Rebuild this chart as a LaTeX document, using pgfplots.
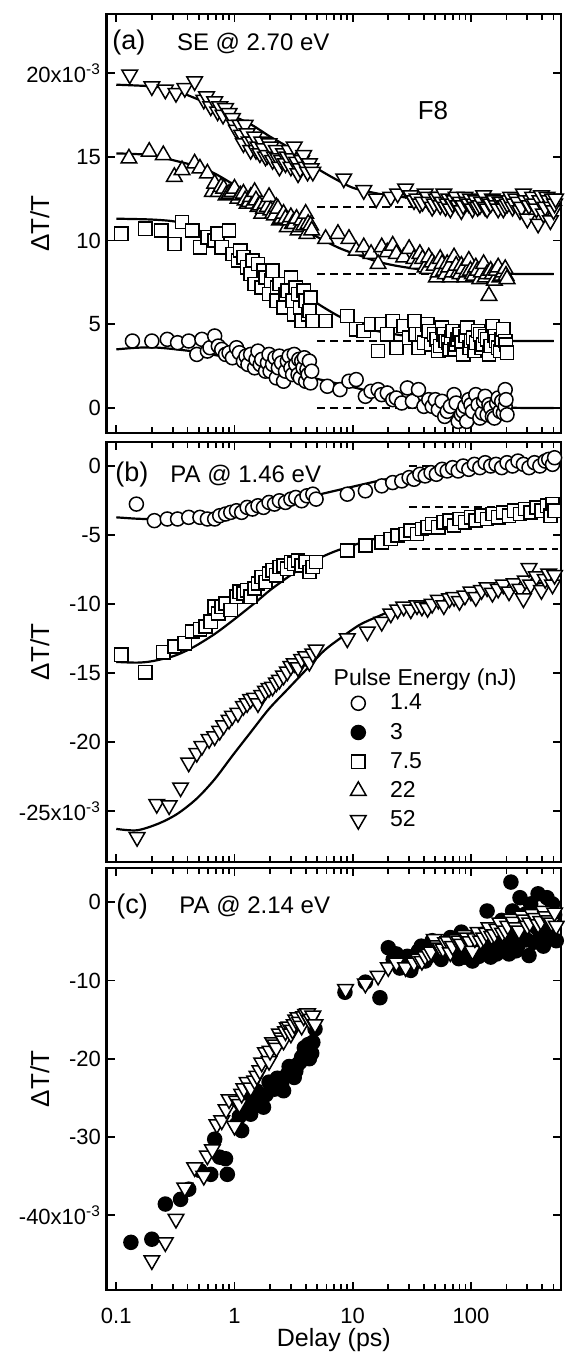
\documentclass[border=0pt]{standalone}
\usepackage{fontspec}
\setmainfont{Liberation Sans}
\usepackage{pgfplots}
\pgfplotsset{compat=1.18}
\pgfplotsset{
  mypanel/.style={
    scale only axis, width=227.15pt,
    xmin=0.083, xmax=578,
    axis line style={line width=1.3pt},
    every tick/.style={black, line width=0.9pt},
    major tick length=4.2pt, minor tick length=3pt,
    tick align=inside, xtick pos=both, ytick pos=both,
    xtick={0.1,1,10,100},
    minor xtick={0.2,0.3,0.4,0.5,0.6,0.7,0.8,0.9,2,3,4,5,6,7,8,9,20,30,40,50,60,70,80,90,200,300,400,500},
    tick label style={font=\fontsize{11}{13}\selectfont},
    yticklabel style={inner sep=0pt, xshift=-2.7pt},
    every axis y label/.style={at={(axis description cs:-0.147,0.5)}, rotate=90, anchor=center, font=\fontsize{13}{15}\selectfont},
    ylabel={ΔT/T},
  },
  mcirc/.style={only marks, mark=*, mark size=3.5pt, mark options={fill=white, draw=black, line width=0.75pt}},
  mfcirc/.style={only marks, mark=*, mark size=3.5pt, mark options={fill=black, draw=black, line width=0.75pt}},
  msq/.style={only marks, mark=square*, mark size=3.3pt, mark options={fill=white, draw=black, line width=0.75pt}},
  mtri/.style={only marks, mark=triangle*, mark size=4.5pt, mark options={fill=white, draw=black, line width=0.75pt}},
  mdtri/.style={only marks, mark=triangle*, mark size=4.5pt, mark options={fill=white, draw=black, line width=0.75pt, rotate=180}},
  fitl/.style={black, line width=1.1pt, no marks, smooth},
  dashl/.style={black, line width=1pt, dash pattern=on 4pt off 2.5pt, no marks},
  legimg/.style={legend image code/.code={\draw[##1] plot coordinates {(0pt,0pt)}; \path[draw=none, fill=none] (-6pt,-5pt) rectangle (6pt,5pt);}},
}
\tikzset{
  annot/.style={anchor=west, inner sep=0pt, font=\fontsize{12}{14}\selectfont},
  annotp/.style={anchor=west, inner sep=0pt, font=\fontsize{13.5}{15}\selectfont},
}
\begin{document}
\begin{tikzpicture}
\useasboundingbox (0,0) rectangle (282pt,-679pt);
% ---------------- panel (a)
\begin{semilogxaxis}[mypanel, at={(53.35pt,-7pt)}, anchor=north west, height=209.5pt,
  ymin=-1.49, ymax=23.52, ytick={0,5,10,15,20},
  yticklabels={0,5,10,15,{20x10\textsuperscript{-3}\hspace{7.5pt}}}, xticklabels={}]
\addplot[dashl] coordinates {(5,0)(500,0)};
\addplot[dashl] coordinates {(5,4)(500,4)};
\addplot[dashl] coordinates {(5,8)(500,8)};
\addplot[dashl] coordinates {(5,12)(500,12)};
% 1.4 nJ circles
\addplot[mcirc] coordinates {(0.137,4.0)(0.2,4.0)(0.27,4.1)(0.33,3.9)(0.41,4.0)(0.48,3.2)(0.53,4.1)(0.59,3.4)(0.62,3.6)(0.68,4.3)(0.73,3.7)(0.78,3.5)(0.84,3.2)(0.9,3.3)(0.96,3.0)(1.04,3.6)(1.1,3.3)(1.19,2.8)(1.25,3.1)(1.3,2.6)(1.37,3.2)(1.48,2.4)(1.52,2.9)(1.58,3.4)(1.65,2.6)(1.7,2.9)(1.83,2.2)(1.9,2.7)(1.96,3.2)(2.0,2.2)(2.1,2.6)(2.2,3.0)(2.26,1.8)(2.35,2.4)(2.4,3.1)(2.5,2.7)(2.6,1.6)(2.7,2.2)(2.8,2.8)(2.9,3.1)(3.0,2.4)(3.1,2.0)(3.2,3.2)(3.3,2.6)(3.45,2.0)(3.5,2.9)(3.6,1.8)(3.7,2.8)(3.8,2.4)(3.9,3.0)(4.0,1.6)(4.1,2.3)(4.2,2.0)(4.3,2.8)(4.4,1.5)(4.5,2.2)(6.1,1.3)(7.8,1.1)(9.3,1.6)(10.7,1.7)(12.8,0.7)(14.3,1.0)(16.4,1.1)(17.6,0.8)(19.6,0.9)(21.8,0.5)(23.4,0.6)(26,0.3)(29,1.2)(32,0.4)(36,1.1)(40,0.1)(44,0.5)(47,0.1)(50,0.5)(53,-0.1)(57,0.4)(60,-0.5)(63,-0.2)(67,0.1)(72,0.8)(75,0.3)(78,-0.8)(83,-0.4)(86,-0.2)(89,0.1)(92,-0.8)(96,0.5)(100,0.2)(103,-0.2)(110,0.8)(115,0.2)(119,-0.6)(125,-0.3)(128,0.4)(132,0.7)(137,-0.4)(142,0.2)(147,0.0)(152,-0.5)(158,-0.6)(165,0.3)(170,0.6)(176,-0.2)(182,0.4)(188,-0.3)(195,1.1)(195,0.1)(198,0.5)(202,-0.4)};
% 7.5 nJ squares
\addplot[msq] coordinates {(0.11,10.4)(0.176,10.7)(0.24,10.6)(0.31,9.8)(0.36,11.1)(0.44,10.6)(0.51,9.6)(0.59,10.2)(0.68,10.0)(0.72,10.4)(0.78,9.6)(0.9,10.6)(0.96,9.2)(1.07,8.8)(1.12,9.4)(1.19,9.0)(1.28,8.4)(1.37,8.0)(1.42,8.8)(1.48,7.4)(1.58,8.6)(1.7,7.2)(1.76,8.2)(1.83,7.8)(1.96,6.8)(2.05,7.6)(2.1,8.2)(2.26,6.4)(2.3,7.2)(2.4,7.4)(2.6,6.0)(2.7,6.8)(2.8,7.0)(3.0,7.8)(3.1,6.4)(3.2,5.6)(3.3,7.2)(3.45,6.8)(3.6,6.0)(3.7,5.2)(3.85,7.0)(4.0,6.4)(4.2,5.6)(4.3,5.8)(4.4,6.6)(4.6,5.2)(5.9,5.2)(9.0,5.5)(10.7,4.7)(12.4,4.6)(14.3,5.0)(16.4,3.4)(17.6,5.0)(19.6,4.4)(21.8,5.2)(23.4,3.6)(27,4.9)(30,4.2)(33.3,5.2)(34,4.4)(36,3.6)(38.5,4.4)(40,3.9)(42.8,5.0)(44,4.6)(46,3.8)(49,4.4)(51,4.1)(53,3.4)(55,3.7)(57,4.8)(59,4.4)(61,4.0)(64,3.9)(66,3.5)(68,4.2)(70,4.6)(73,3.5)(75,3.8)(77,4.1)(80,4.4)(83,3.9)(86,3.2)(90,4.3)(93,4.8)(97,3.6)(100,4.0)(104,4.2)(107,3.4)(111,3.9)(115,4.6)(119,4.4)(123,3.6)(127,3.8)(132,4.3)(137,4.1)(142,3.2)(147,3.7)(152,4.9)(158,4.3)(163,4.0)(170,3.6)(176,3.4)(182,4.1)(188,4.7)(195,4.0)(198,3.8)(202,3.3)};
% 22 nJ triangles up
\addplot[mtri] coordinates {(0.128,14.9)(0.19,15.3)(0.25,15.1)(0.31,13.8)(0.36,14.2)(0.46,14.6)(0.51,14.3)(0.59,14.0)(0.65,12.9)(0.68,13.4)(0.73,12.9)(0.77,13.2)(0.81,13.1)(0.85,12.7)(0.9,12.8)(0.95,12.9)(1.0,13.1)(1.07,12.5)(1.12,12.7)(1.19,12.8)(1.23,12.4)(1.28,12.2)(1.33,12.3)(1.37,12.6)(1.43,12.2)(1.48,12.9)(1.52,12.4)(1.58,12.0)(1.64,12.1)(1.7,11.6)(1.76,11.9)(1.83,12.2)(1.9,12.0)(1.96,12.6)(2.03,11.8)(2.1,11.6)(2.18,11.5)(2.26,12.0)(2.33,11.9)(2.4,11.2)(2.5,11.3)(2.6,11.6)(2.7,11.3)(2.8,10.8)(2.9,11.2)(3.0,11.4)(3.1,11.0)(3.2,11.0)(3.35,11.3)(3.45,10.6)(3.6,10.8)(3.7,11.2)(3.85,10.9)(4.0,11.6)(4.1,10.4)(4.2,11.0)(4.4,10.9)(4.5,10.6)(5.9,10.1)(7.5,10.4)(9.3,10.1)(10.7,9.4)(12.4,9.6)(14.3,9.2)(16.4,8.6)(17.6,9.6)(19.6,9.3)(21.8,9.7)(23.4,9.2)(27,9.0)(30,9.5)(33,8.9)(35,8.6)(37,9.2)(39,8.9)(41,8.4)(43,8.3)(44,9.0)(47,8.7)(49,8.5)(51,7.8)(53,8.1)(55,8.9)(57,8.6)(59,8.2)(61,8.0)(63,8.6)(65,8.4)(67,7.8)(70,8.1)(72,9.0)(75,8.5)(78,8.1)(81,8.0)(83,8.5)(86,8.3)(89,7.8)(92,8.1)(96,8.8)(99,8.2)(103,8.0)(106,7.9)(110,8.4)(114,8.2)(119,7.7)(123,8.1)(128,8.6)(132,7.8)(137,8.0)(142,6.7)(147,8.2)(152,8.0)(158,7.6)(164,8.2)(170,8.4)(176,7.8)(182,7.9)(188,8.1)(195,8.3)(198,7.9)(202,7.7)};
% 52 nJ triangles down
\addplot[mdtri] coordinates {(0.13,19.9)(0.2,19.2)(0.26,19.0)(0.32,18.8)(0.38,19.1)(0.46,19.5)(0.55,18.4)(0.58,18.6)(0.63,18.0)(0.68,18.3)(0.72,17.7)(0.75,18.0)(0.8,17.5)(0.84,17.9)(0.9,17.6)(0.96,17.3)(1.0,16.9)(1.04,16.6)(1.11,16.9)(1.15,16.3)(1.19,15.8)(1.23,16.9)(1.28,16.4)(1.33,15.9)(1.37,15.4)(1.43,15.9)(1.48,16.2)(1.52,15.4)(1.58,15.6)(1.64,15.2)(1.7,15.9)(1.76,15.5)(1.83,15.0)(1.9,15.1)(1.96,15.8)(2.03,15.6)(2.1,14.8)(2.18,15.0)(2.26,15.4)(2.33,14.9)(2.4,14.4)(2.5,14.8)(2.6,15.2)(2.7,14.6)(2.8,15.0)(2.9,15.4)(3.0,14.4)(3.1,14.9)(3.2,15.6)(3.35,14.7)(3.45,14.0)(3.6,14.3)(3.7,14.8)(3.85,15.1)(4.0,14.4)(4.15,14.1)(4.3,14.6)(4.45,14.3)(4.6,14.1)(8.4,13.7)(12.4,13.0)(15.8,12.5)(21,12.6)(24,12.8)(28,13.1)(31,12.7)(33,12.4)(35,12.5)(37,12.2)(39,12.3)(41,12.8)(43,12.6)(44,12.3)(47,12.0)(49,12.2)(51,12.5)(53,12.6)(55,12.1)(57,12.3)(59,12.8)(61,12.0)(63,12.2)(65,12.5)(67,11.9)(70,12.2)(72,12.4)(75,12.6)(78,12.1)(81,12.3)(83,11.8)(86,12.1)(89,12.6)(92,12.3)(96,12.2)(99,12.5)(103,11.9)(106,12.2)(110,12.4)(114,12.0)(119,12.1)(123,12.3)(128,12.7)(132,12.0)(137,11.9)(142,12.3)(147,12.2)(152,12.5)(158,12.4)(164,12.1)(170,11.9)(176,12.3)(182,12.3)(188,11.9)(195,12.1)(203,12.2)(210,12.4)(217,12.6)(225,12.0)(232,12.2)(240,12.5)(250,12.3)(260,11.8)(268,12.0)(278,12.8)(289,12.4)(300,11.3)(310,12.1)(320,12.4)(333,12.6)(345,12.2)(358,11.9)(370,11.0)(383,12.4)(395,12.7)(410,11.6)(425,12.0)(440,12.6)(455,12.4)(470,11.2)(480,12.0)(490,12.5)(500,11.8)(510,12.2)(520,12.5)};
% fits
\addplot[fitl] coordinates {(0.1,3.5)(0.15,3.6)(0.23,3.6)(0.48,3.35)(0.96,2.95)(1.96,2.4)(4.0,1.9)(8.1,1.4)(16.4,0.9)(33,0.5)(67,0.2)(137,0.06)(250,0.01)(500,0.0)};
\addplot[fitl] coordinates {(0.1,11.3)(0.2,11.25)(0.33,11.1)(0.5,10.6)(0.68,10.0)(1.0,9.3)(1.37,8.6)(2.0,7.9)(2.8,7.4)(4.0,6.7)(5.7,6.0)(8,5.4)(11.5,4.9)(16,4.6)(23,4.4)(35,4.2)(47,4.1)(96,4.02)(200,4.0)(500,4.0)};
\addplot[fitl] coordinates {(0.1,15.2)(0.2,15.1)(0.3,14.8)(0.5,14.4)(0.68,14.0)(1.0,13.3)(1.37,12.6)(2.0,11.8)(2.8,11.2)(4.0,10.6)(5.7,10.0)(8,9.5)(11.5,9.1)(16,8.75)(23,8.5)(35,8.3)(47,8.2)(96,8.05)(200,8.01)(500,8.0)};
\addplot[fitl] coordinates {(0.1,19.3)(0.2,19.2)(0.3,19.0)(0.5,18.4)(0.7,17.9)(1.0,17.4)(1.4,16.9)(2.0,16.2)(2.8,15.6)(4.0,14.8)(5.0,14.3)(7.0,13.7)(10,13.15)(15,12.85)(20,12.7)(30,12.55)(50,12.4)(100,12.3)(200,12.2)(550,12.15)};
\end{semilogxaxis}
% ---------------- panel (b)
\begin{semilogxaxis}[mypanel, at={(53.35pt,-221pt)}, anchor=north west, height=210pt,
  ymin=-28.7, ymax=1.74, ytick={-25,-20,-15,-10,-5,0},
  yticklabels={{-25x10\textsuperscript{-3}\hspace{7.5pt}},-20,-15,-10,-5,0}, xticklabels={},
  legend style={draw=none, fill=none, inner sep=0pt, outer sep=0pt,
    at={(axis description cs:0.5274,0.4017)}, anchor=north west,
    font=\fontsize{11.5}{13}\selectfont, legend cell align=left, row sep=4.6pt,
    nodes={inner sep=0pt},
    /tikz/every odd column/.append style={column sep=9.85pt}}]
\addlegendimage{mcirc, legimg}\addlegendentry{1.4}
\addlegendimage{mfcirc, legimg}\addlegendentry{3}
\addlegendimage{msq, legimg}\addlegendentry{7.5}
\addlegendimage{mtri, legimg}\addlegendentry{22}
\addlegendimage{mdtri, legimg}\addlegendentry{52}
\addplot[dashl, forget plot] coordinates {(30,0)(550,0)};
\addplot[dashl, forget plot] coordinates {(30,-3)(550,-3)};
\addplot[dashl, forget plot] coordinates {(30,-6)(550,-6)};
\addplot[mcirc, forget plot] coordinates {(0.148,-2.76)(0.21,-3.96)(0.27,-3.84)(0.33,-3.84)(0.41,-3.72)(0.51,-3.72)(0.59,-3.84)(0.68,-3.84)(0.75,-3.6)(0.84,-3.48)(0.93,-3.36)(1.04,-3.24)(1.15,-3.36)(1.28,-3.0)(1.42,-3.12)(1.58,-2.88)(1.76,-3.0)(1.96,-2.64)(2.18,-2.76)(2.4,-2.52)(2.7,-2.64)(3.0,-2.4)(3.3,-2.28)(3.7,-2.52)(4.1,-2.16)(4.6,-2.04)(4.9,-2.4)(9,-2.04)(12.8,-1.8)(17.6,-1.44)(21.8,-1.2)(26,-1.08)(30,-0.84)(33,-0.96)(37,-0.6)(41,-0.72)(46,-0.48)(51,-0.6)(57,-0.24)(63,-0.36)(70,-0.12)(78,-0.36)(86,0)(96,-0.24)(107,0.12)(119,-0.12)(132,0.24)(147,0)(163,0.12)(182,-0.12)(202,0.24)(225,0)(250,0.36)(278,0.12)(310,-0.12)(345,0.24)(383,0)(425,0.36)(455,0.48)(490,0.12)(510,0.6)};
\addplot[msq, forget plot] coordinates {(0.11,-13.68)(0.176,-14.95)(0.25,-13.5)(0.31,-13.08)(0.38,-12.84)(0.44,-12.0)(0.51,-11.83)(0.57,-11.64)(0.63,-11.28)(0.68,-10.2)(0.73,-10.68)(0.78,-10.2)(0.84,-9.96)(0.93,-10.44)(1.04,-9.48)(1.11,-9.12)(1.19,-9.24)(1.28,-9.0)(1.37,-9.48)(1.48,-8.88)(1.58,-8.52)(1.7,-8.04)(1.83,-8.4)(1.96,-7.8)(2.1,-7.56)(2.26,-7.92)(2.4,-7.32)(2.6,-7.2)(2.8,-7.44)(3.0,-6.96)(3.2,-7.08)(3.45,-6.84)(3.7,-7.2)(4.0,-6.96)(4.3,-7.68)(4.6,-7.32)(4.9,-6.96)(9,-6.12)(12.8,-5.76)(17.6,-5.52)(21,-5.28)(24,-5.04)(28,-4.92)(31,-4.68)(35,-4.92)(38.5,-4.56)(42.8,-4.44)(47,-4.2)(53,-4.44)(59,-4.08)(66,-3.96)(72,-4.32)(80,-3.84)(89,-4.08)(100,-3.72)(110,-3.96)(123,-3.6)(137,-3.84)(152,-3.48)(170,-3.72)(188,-3.36)(210,-3.6)(232,-3.24)(260,-3.48)(288,-3.12)(320,-3.36)(358,-3.0)(395,-3.24)(440,-2.88)(470,-3.6)(490,-2.76)(510,-3.24)};
\addplot[mdtri, forget plot] coordinates {(0.15,-26.9)(0.22,-24.5)(0.28,-24.6)(0.35,-23.3)(0.41,-21.5)(0.48,-20.8)(0.53,-20.3)(0.61,-19.8)(0.68,-19.6)(0.75,-19.2)(0.81,-18.8)(0.9,-18.4)(0.96,-18.1)(1.07,-17.9)(1.19,-17.4)(1.28,-17.2)(1.37,-16.9)(1.48,-16.8)(1.58,-17.2)(1.7,-16.6)(1.83,-16.3)(1.96,-16.1)(2.1,-16.0)(2.26,-15.7)(2.4,-15.5)(2.6,-15.2)(2.8,-14.9)(3.0,-14.5)(3.2,-14.3)(3.45,-14.6)(3.7,-14.0)(4.0,-13.8)(4.3,-14.2)(4.6,-13.6)(4.9,-13.3)(9,-12.5)(13.3,-12.0)(17.6,-11.3)(21,-10.7)(24,-10.4)(27,-10.2)(31,-10.4)(35,-10.1)(38.5,-10.2)(43,-10.3)(47,-10.0)(53,-9.7)(59,-10.1)(66,-9.6)(72,-9.5)(80,-9.8)(89,-9.4)(100,-9.1)(110,-9.5)(123,-9.0)(137,-8.8)(152,-9.2)(170,-8.9)(188,-8.6)(210,-9.1)(232,-8.5)(260,-8.9)(278,-9.6)(288,-8.3)(310,-7.4)(320,-8.6)(358,-8.0)(395,-9.0)(425,-8.2)(455,-7.8)(490,-8.6)(510,-7.9)};
\addplot[fitl, forget plot] coordinates {(0.1,-3.72)(0.15,-3.82)(0.2,-3.84)(0.3,-3.78)(0.48,-3.62)(0.96,-3.25)(1.96,-2.76)(4.0,-2.28)(8.1,-1.68)(16.4,-1.08)(33,-0.55)(67,-0.15)(137,0.08)(250,0.18)(550,0.25)};
\addplot[fitl, forget plot] coordinates {(0.1,-14.2)(0.15,-14.25)(0.2,-14.15)(0.3,-13.8)(0.4,-13.35)(0.5,-12.9)(0.7,-12.1)(1.0,-11.1)(1.5,-9.9)(2.0,-9.0)(3.0,-7.9)(4.0,-7.2)(5.0,-6.75)(7,-6.2)(10,-5.75)(15,-5.3)(20,-5.05)(30,-4.7)(50,-4.3)(100,-3.9)(200,-3.55)(550,-3.2)};
\addplot[fitl, forget plot] coordinates {(0.1,-26.3)(0.15,-26.4)(0.23,-25.9)(0.33,-25.2)(0.48,-24.1)(0.68,-22.7)(0.96,-21.0)(1.37,-19.3)(1.96,-17.6)(2.8,-16.2)(4.0,-14.8)(5.7,-13.4)(8.1,-12.4)(11.5,-11.5)(16.4,-10.9)(23,-10.4)(47,-9.8)(96,-9.4)(195,-8.9)(527,-8.3)};
\node[anchor=west, inner sep=0pt, font=\fontsize{11.5}{13}\selectfont] at (axis description cs:0.4988,0.4333) {Pulse Energy (nJ)};
\end{semilogxaxis}
% ---------------- panel (c)
\begin{semilogxaxis}[mypanel, at={(53.35pt,-434pt)}, anchor=north west, height=211pt,
  ymin=-49.6, ymax=4.4, ytick={-40,-30,-20,-10,0},
  yticklabels={{-40x10\textsuperscript{-3}\hspace{7.5pt}},-30,-20,-10,0},
  xticklabels={0.1,1,10,100}, xticklabel style={anchor=base, yshift=-16.5pt},
  every axis x label/.style={at={(axis description cs:0.5,-0.1327)}, anchor=base, font=\fontsize{12.5}{15}\selectfont},
  xlabel={Delay (ps)}]
\addplot[mfcirc] coordinates {(0.133,-43.5)(0.2,-43.1)(0.26,-38.6)(0.35,-38.0)(0.41,-36.7)(0.51,-34.3)(0.63,-34.8)(0.68,-30.3)(0.75,-32.6)(0.84,-32.8)(0.87,-34.8)(1.04,-28.4)(1.1,-27.4)(1.15,-29.2)(1.28,-26.4)(1.37,-27.1)(1.4,-25.3)(1.53,-24.1)(1.6,-25.8)(1.76,-26.2)(1.85,-24.6)(1.96,-23.0)(2.18,-23.9)(2.3,-22.5)(2.4,-22.8)(2.5,-23.3)(2.6,-24.1)(2.8,-22.0)(2.9,-21.0)(3.0,-21.3)(3.2,-22.4)(3.3,-21.6)(3.45,-20.7)(3.6,-20.4)(3.7,-19.8)(3.9,-18.6)(4.0,-19.0)(4.2,-18.2)(4.3,-20.0)(4.5,-19.3)(4.6,-17.9)(4.8,-16.2)(8.6,-11.5)(12.8,-10.2)(17,-12.2)(20,-5.8)(22,-7.3)(23.4,-6.6)(25,-8.4)(27,-7.9)(29,-6.9)(31,-8.7)(33,-7.8)(36,-6.2)(38,-5.6)(41,-7.5)(44,-6.9)(47,-4.9)(50,-5.5)(53,-6.6)(56,-7.3)(59,-5.3)(63,-6.0)(67,-4.5)(71,-5.0)(75,-6.2)(79,-7.2)(83,-3.8)(89,-7.0)(93,-6.5)(96,-5.3)(100,-4.6)(103,-7.5)(110,-6.2)(117,-6.9)(123,-4.1)(130,-5.8)(137,-1.1)(147,-7.0)(153,-5.5)(158,-4.5)(165,-6.6)(170,-5.8)(182,-2.3)(190,-6.1)(195,-4.9)(203,-2.9)(210,-6.6)(218,2.6)(225,-1.1)(232,-4.2)(240,-6.2)(250,-5.5)(260,0.6)(268,-3.8)(278,-3.2)(288,-1.5)(296,-4.8)(310,-6.8)(320,-0.2)(340,-5.1)(358,-3.2)(370,1.1)(380,-3.6)(395,-1.9)(410,-5.6)(425,-4.9)(440,0.6)(460,-4.3)(470,-2.8)(490,-0.2)(510,-1.6)(527,-4.9)};
\addplot[mdtri] coordinates {(0.2,-45.8)(0.26,-43.5)(0.32,-40.5)(0.38,-36.5)(0.46,-33.9)(0.55,-35.0)(0.59,-32.4)(0.65,-31.6)(0.71,-28.4)(0.78,-27.9)(0.85,-26.5)(0.9,-25.2)(1.0,-28.6)(1.04,-25.4)(1.1,-25.8)(1.15,-24.5)(1.2,-23.8)(1.28,-23.0)(1.37,-23.7)(1.48,-22.8)(1.55,-22.2)(1.64,-21.5)(1.7,-20.5)(1.83,-19.2)(1.96,-20.3)(2.0,-19.0)(2.1,-17.9)(2.2,-18.2)(2.26,-18.6)(2.4,-16.8)(2.5,-17.3)(2.6,-17.7)(2.7,-16.5)(2.8,-16.0)(2.9,-15.9)(3.0,-16.8)(3.1,-16.3)(3.2,-15.6)(3.3,-15.0)(3.45,-14.7)(3.55,-15.3)(3.7,-15.8)(3.85,-14.6)(4.0,-14.3)(4.15,-14.2)(4.3,-15.1)(4.45,-14.9)(4.6,-14.5)(4.8,-15.6)(8.7,-11.1)(12.8,-10.4)(16.4,-9.4)(20,-8.3)(23.4,-7.7)(28,-8.3)(33,-7.7)(36,-7.2)(38.5,-7.5)(41,-6.9)(44,-6.6)(46,-6.3)(49,-4.7)(52,-5.5)(55,-5.8)(58,-5.9)(61,-5.1)(64,-5.0)(67,-6.4)(70,-5.6)(75,-4.7)(79,-4.9)(83,-5.3)(88,-4.2)(93,-4.5)(98,-5.0)(103,-6.2)(108,-4.6)(115,-3.8)(121,-4.9)(128,-4.5)(135,-3.9)(142,-3.2)(150,-4.3)(158,-4.1)(166,-3.4)(176,-2.6)(185,-3.9)(195,-3.6)(205,-3.0)(218,-2.1)(228,-2.5)(240,-3.2)(255,-3.6)(270,-1.7)(285,-2.2)(300,-3.0)(315,-2.6)(330,-1.5)(350,-2.0)(370,-2.8)(390,-2.4)(410,-1.1)(430,-1.8)(455,-2.3)(480,-2.6)(510,-1.3)(527,-3.0)};
\end{semilogxaxis}
% annotations
\node[annotp] at (56pt,-21.5pt) {(a)};
\node[annot] at (88.3pt,-21.5pt) {SE @ 2.70 eV};
\node[anchor=center, inner sep=0pt, font=\fontsize{13}{15}\selectfont] at (216.5pt,-55.5pt) {F8};
\node[annotp] at (57.5pt,-237.5pt) {(b)};
\node[annot] at (85pt,-237.5pt) {PA @ 1.46 eV};
\node[annotp] at (58pt,-453.3pt) {(c)};
\node[annot] at (89.5pt,-453.3pt) {PA @ 2.14 eV};
\end{tikzpicture}
\end{document}
